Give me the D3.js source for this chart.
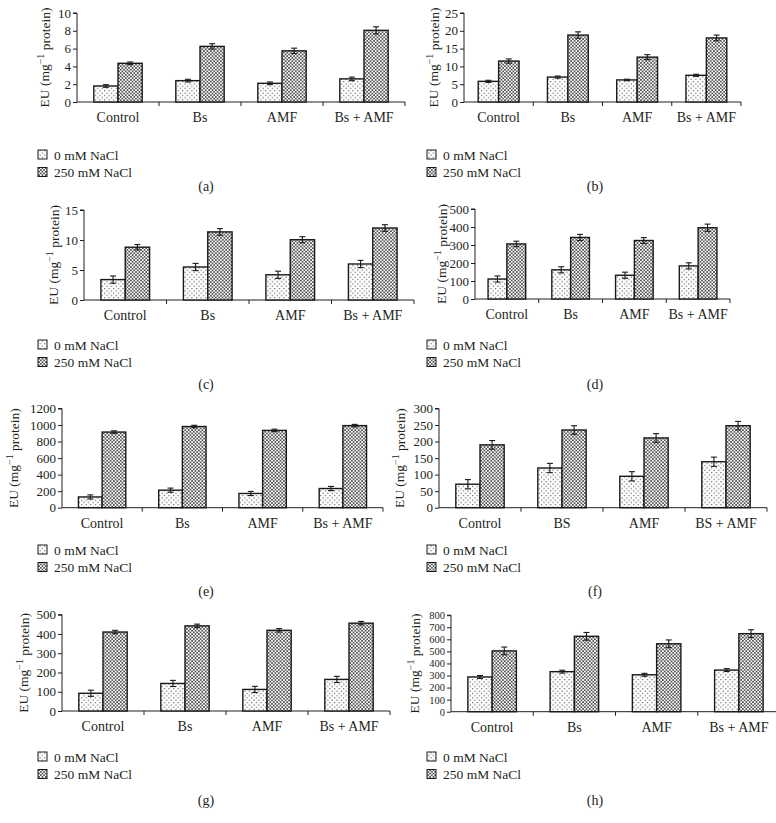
<!DOCTYPE html>
<html><head><meta charset="utf-8">
<script src="https://cdn.jsdelivr.net/npm/d3@7"></script>
<style>
html,body{margin:0;padding:0;background:#fff;}
svg text{font-family:"Liberation Serif","DejaVu Serif",serif;fill:#231f20;}
</style></head>
<body>
<svg id="chart" width="776" height="823"></svg>
<script>
// ---------- data ----------
const categories = ["Control", "Bs", "AMF", "Bs + AMF"];
const categoriesF = ["Control", "BS", "AMF", "BS + AMF"];
const seriesNames = ["0 mM NaCl", "250 mM NaCl"];
const panelLabels = ["(a)", "(b)", "(c)", "(d)", "(e)", "(f)", "(g)", "(h)"];

const a0 = [1.8, 2.4, 2.1, 2.6],       a250 = [4.35, 6.25, 5.75, 8.05];
const a0Err = [0.15, 0.15, 0.15, 0.2], a250Err = [0.15, 0.3, 0.3, 0.4];
const b0 = [5.8, 7.0, 6.2, 7.5],       b250 = [11.5, 18.8, 12.6, 18.0];
const b0Err = [0.3, 0.3, 0.2, 0.3],    b250Err = [0.6, 0.9, 0.7, 0.8];
const c0 = [3.4, 5.5, 4.2, 6.0],       c250 = [8.8, 11.35, 10.05, 12.0];
const c0Err = [0.6, 0.6, 0.6, 0.6],    c250Err = [0.45, 0.55, 0.5, 0.55];
const d0 = [111, 162, 132, 184],       d250 = [306, 342, 325, 396];
const d0Err = [17, 17, 17, 17],        d250Err = [15, 17, 16, 20];
const e0 = [130, 212, 172, 232],       e250 = [915, 982, 935, 993];
const e0Err = [25, 25, 25, 25],        e250Err = [15, 15, 15, 15];
const f0 = [71, 120, 95, 139],         f250 = [190, 235, 211, 248];
const f0Err = [14, 14, 14, 14],        f250Err = [13, 13, 13, 13];
const g0 = [92, 143, 112, 164],        g250 = [410, 442, 419, 456];
const g0Err = [16, 16, 16, 16],        g250Err = [9, 9, 9, 9];
const h0 = [288, 332, 306, 345],       h250 = [504, 625, 563, 647];
const h0Err = [12, 12, 12, 12],        h250Err = [32, 32, 32, 32];

const yMaxes = [10, 25, 15, 500, 1200, 300, 500, 800];
const ySteps = [2, 5, 5, 100, 200, 50, 100, 100];

const panelData = [
  [a0, a250, a0Err, a250Err], [b0, b250, b0Err, b250Err],
  [c0, c250, c0Err, c250Err], [d0, d250, d0Err, d250Err],
  [e0, e250, e0Err, e250Err], [f0, f250, f0Err, f250Err],
  [g0, g250, g0Err, g250Err], [h0, h250, h0Err, h250Err]
];

// ---------- layout ----------
const layout = [
  {x0: 77,  x1: 405, yT: 13,    yB: 102,   lx: 44,  legX: 38,  legY: 155, labY: 186, tf: 13},
  {x0: 464, x1: 741, yT: 13,    yB: 102,   lx: 433, legX: 427, legY: 155, labY: 186, tf: 13},
  {x0: 84,  x1: 414, yT: 210,   yB: 300,   lx: 53,  legX: 38,  legY: 345, labY: 384, tf: 13},
  {x0: 475, x1: 730, yT: 209,   yB: 299,   lx: 441, legX: 427, legY: 345, labY: 384, tf: 13},
  {x0: 62,  x1: 383, yT: 408.5, yB: 507.7, lx: 13,  legX: 38,  legY: 550, labY: 591, tf: 13},
  {x0: 439, x1: 767, yT: 408.5, yB: 507.7, lx: 399, legX: 427, legY: 550, labY: 591, tf: 13},
  {x0: 62,  x1: 390, yT: 614.7, yB: 711,   lx: 23,  legX: 38,  legY: 757, labY: 800, tf: 13},
  {x0: 451, x1: 780, yT: 615.2, yB: 711.7, lx: 414, legX: 427, legY: 757, labY: 800, tf: 10.5}
];
const labX = [206, 595];

const svg = d3.select("#chart");
const defs = svg.append("defs");
// dotted pattern
const pd = defs.append("pattern").attr("id", "dots").attr("patternUnits", "userSpaceOnUse")
  .attr("width", 4.6).attr("height", 4.6);
pd.append("rect").attr("width", 4.6).attr("height", 4.6).attr("fill", "#fff");
pd.append("circle").attr("cx", 1.1).attr("cy", 1.1).attr("r", 0.6).attr("fill", "#333");
pd.append("circle").attr("cx", 3.4).attr("cy", 3.4).attr("r", 0.6).attr("fill", "#333");
// crosshatch pattern
const pc = defs.append("pattern").attr("id", "cross").attr("patternUnits", "userSpaceOnUse")
  .attr("width", 3.4).attr("height", 3.4);
pc.append("rect").attr("width", 3.4).attr("height", 3.4).attr("fill", "#fff");
pc.append("path").attr("d", "M0,0L3.4,3.4M0,3.4L3.4,0M-1,1L1,-1M2.4,4.4L4.4,2.4")
  .attr("stroke", "#3a3a3a").attr("stroke-width", 0.75);
const fills = ["url(#dots)", "url(#cross)"];

panelData.forEach((pdv, i) => {
  const L = layout[i];
  const cats = i === 5 ? categoriesF : categories;
  const g = svg.append("g");
  const x = d3.scaleBand().domain(cats).range([L.x0, L.x1]).padding(0);
  const bw = x.bandwidth();
  const gw = bw * 0.59;
  const xs = d3.scaleBand().domain([0, 1]).range([(bw - gw) / 2, (bw + gw) / 2]).padding(0);
  const y = d3.scaleLinear().domain([0, yMaxes[i]]).range([L.yB, L.yT]);

  // y axis
  const ya = g.append("g").attr("transform", `translate(${L.x0},0)`)
    .call(d3.axisLeft(y).tickValues(d3.range(0, yMaxes[i] + ySteps[i] / 2, ySteps[i]))
      .tickSize(4).tickPadding(2).tickFormat(d3.format("d")));
  ya.select(".domain").attr("stroke", "#231f20").attr("d", `M-4,${L.yT}H0V${L.yB}`);
  ya.selectAll("line").attr("stroke", "#231f20");
  ya.selectAll("text").style("font-size", L.tf + "px").attr("fill", "#231f20");

  // x axis
  const xa = g.append("g").attr("transform", `translate(0,${L.yB})`)
    .call(d3.axisBottom(x).tickSize(0).tickPadding(10));
  xa.select(".domain").attr("stroke", "#231f20").attr("d", `M${L.x0},0H${L.x1}`);
  xa.selectAll("text").style("font-size", "14px").attr("fill", "#231f20");
  g.selectAll(".xt").data(cats).join("line").attr("class", "xt")
    .attr("x1", d => x(d) + bw).attr("x2", d => x(d) + bw)
    .attr("y1", L.yB).attr("y2", L.yB + 4).attr("stroke", "#231f20");

  // bars
  [0, 1].forEach(s => {
    const vals = pdv[s], errs = pdv[2 + s];
    const bg = g.append("g");
    bg.selectAll("rect").data(cats).join("rect")
      .attr("x", (d, k) => x(d) + xs(s))
      .attr("y", (d, k) => y(vals[k]))
      .attr("width", xs.bandwidth())
      .attr("height", (d, k) => L.yB - y(vals[k]))
      .attr("fill", fills[s]).attr("stroke", "#1a1a1a").attr("stroke-width", 1.4);
    const eg = g.append("g").attr("stroke", "#1a1a1a").attr("stroke-width", 1.1);
    cats.forEach((d, k) => {
      const cx = x(d) + xs(s) + xs.bandwidth() / 2;
      const t = y(vals[k] + errs[k]), b = y(vals[k] - errs[k]);
      eg.append("line").attr("x1", cx).attr("x2", cx).attr("y1", t).attr("y2", b);
      eg.append("line").attr("x1", cx - 3).attr("x2", cx + 3).attr("y1", t).attr("y2", t);
      eg.append("line").attr("x1", cx - 3).attr("x2", cx + 3).attr("y1", b).attr("y2", b);
    });
  });

  // y label
  const yl = g.append("text")
    .attr("transform", `translate(${L.lx},${(L.yT + L.yB) / 2}) rotate(-90)`)
    .attr("text-anchor", "middle").attr("dy", "0.35em").style("font-size", "13.5px");
  yl.append("tspan").text("EU (mg");
  yl.append("tspan").attr("dy", "-0.45em").style("font-size", "10px").text("\u22121");
  yl.append("tspan").attr("dy", "0.45em").text(" protein)");

  // legend
  const lg = g.append("g");
  seriesNames.forEach((nm, s) => {
    const yy = L.legY + s * 17.5;
    lg.append("rect").attr("x", L.legX).attr("y", yy - 5).attr("width", 9).attr("height", 9)
      .attr("fill", fills[s]).attr("stroke", "#1a1a1a").attr("stroke-width", 1);
    lg.append("text").attr("x", L.legX + 16).attr("y", yy).attr("dy", "0.35em")
      .style("font-size", "13.5px").text(nm);
  });

  // panel label
  g.append("text").attr("x", labX[i % 2]).attr("y", L.labY).attr("dy", "0.35em")
    .attr("text-anchor", "middle").style("font-size", "14px").text(panelLabels[i]);
});
</script>
</body></html>
